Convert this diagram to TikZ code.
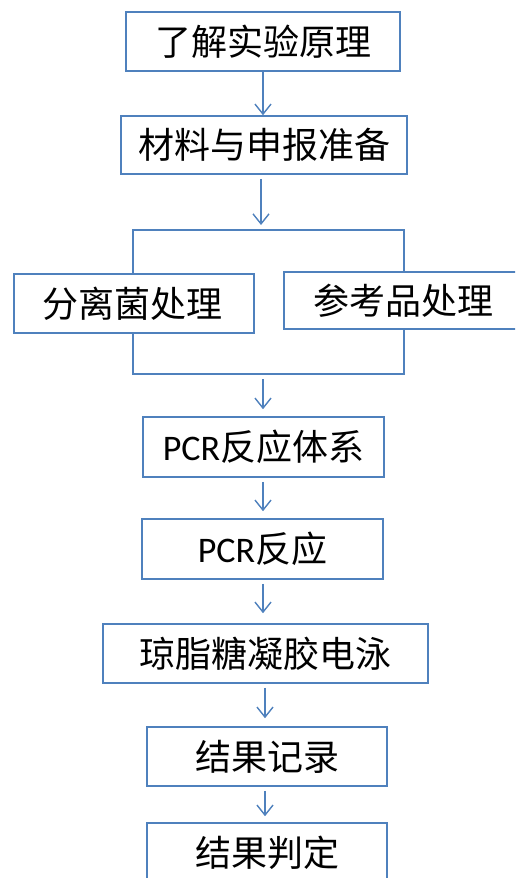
\documentclass[tikz,border=0pt]{standalone}
\usepackage{fontspec}
\newfontfamily\cjk{Noto Sans CJK SC}
\newfontfamily\lat{Carlito}
\usetikzlibrary{arrows.meta}
\definecolor{boxblue}{RGB}{79,129,189}
\tikzset{
  x=1pt, y=-1pt,
  stepbox/.style={draw=boxblue, line width=1.6pt, fill=white, inner sep=0pt,
    minimum width=#1, font=\cjk\fontsize{36}{40}\selectfont, text=black},
  flowarrow/.style={draw=boxblue, line width=1.4pt,
    -{Straight Barb[length=10pt,width=16pt,line width=1.4pt]}},
  bracket/.style={draw=boxblue, line width=1.6pt}
}
\begin{document}
\begin{tikzpicture}
\useasboundingbox (0,0) rectangle (515,878);
\fill[white] (0,0) rectangle (515,878);
\clip (0,0) rectangle (515,878);

\node[stepbox=274pt, minimum height=59pt] (b1) at (263,41.5) {了解实验原理};
\node[stepbox=286pt, minimum height=58pt] (b2) at (264,145) {材料与申报准备};
\node[stepbox=240pt, minimum height=59pt] (bl) at (134,303.5) {分离菌处理\hspace*{4pt}};
\node[stepbox=260pt, minimum height=57pt] (br) at (414,300.5) {\hspace*{-22pt}参考品处理};
\node[stepbox=241pt, minimum height=60pt] (b3) at (263.5,447) {{\lat PCR}反应体系};
\node[stepbox=241pt, minimum height=60pt] (b4) at (262.5,549) {{\lat PCR}反应};
\node[stepbox=325pt, minimum height=59pt] (b5) at (265.5,653.5) {琼脂糖凝胶电泳};
\node[stepbox=240pt, minimum height=59pt] (b6) at (267,756.5) {结果记录};
\node[stepbox=240pt, minimum height=60pt] (b7) at (267,853) {结果判定};

% bracket corners
\coordinate (tl) at (133,230);
\coordinate (tr) at (404,230);
\coordinate (ll) at (133,374);
\coordinate (lr) at (404,374);
\coordinate (a2end) at (261,225);
\coordinate (a3start) at (263,379);

\draw[bracket] (bl.north -| tl) -- (tl) -- (tr) -- (br.north -| tr);
\draw[bracket] (bl.south -| ll) -- (ll) -- (lr) -- (br.south -| lr);

\draw[flowarrow] (b1.south -| 263,0) -- (b2.north -| 263,0);
\draw[flowarrow] ([yshift=-4pt]b2.south -| a2end) -- (a2end);
\draw[flowarrow] (a3start) -- ([yshift=7pt]b3.north -| a3start);
\draw[flowarrow] ([yshift=-4pt]b3.south -| 263,0) -- ([yshift=7pt]b4.north -| 263,0);
\draw[flowarrow] ([yshift=-4pt]b4.south -| 263,0) -- ([yshift=10pt]b5.north -| 263,0);
\draw[flowarrow] ([yshift=-4pt]b5.south -| 265,0) -- ([yshift=8pt]b6.north -| 265,0);
\draw[flowarrow] ([yshift=-4pt]b6.south -| 265,0) -- ([yshift=6pt]b7.north -| 265,0);
\end{tikzpicture}
\end{document}
